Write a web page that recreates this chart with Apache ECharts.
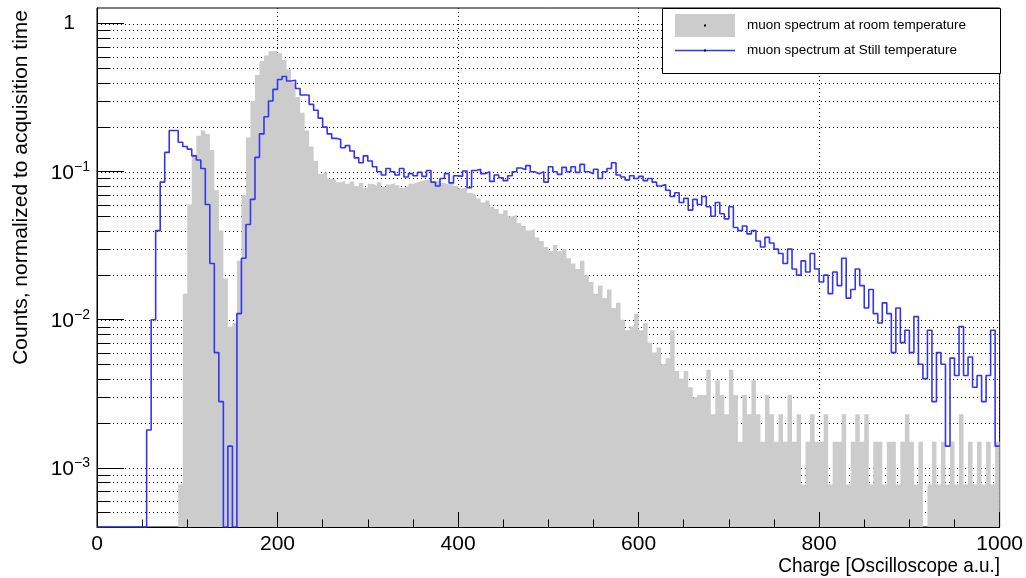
<!DOCTYPE html>
<html><head><meta charset="utf-8">
<script src="https://cdn.jsdelivr.net/npm/echarts@6/dist/echarts.min.js"></script>
<style>html,body{margin:0;padding:0;background:#fff}#c{width:1026px;height:578px}</style>
</head><body><div id="c"></div>
<script>
// ---- data (bin width 5 charge units, bins start at 0) ----
const BIN_START = 0, BIN_WIDTH = 5;
const roomTemperature = [
  0,0,0,0,0,0,0,0,0,0,
  0,0,0,0,0,0,0,0,0.00077,0.015,
  0.06,0.13,0.175,0.19,0.18,0.14,0.075,0.04,0.019,0.009,
  0.0095,0.025,0.07,0.17,0.3,0.45,0.56,0.61,0.65,0.66,
  0.63,0.57,0.49,0.40,0.32,0.25,0.19,0.148,0.118,0.097,
  0.1,0.09,0.088,0.085,0.087,0.083,0.086,0.08,0.084,0.078,
  0.083,0.081,0.085,0.079,0.082,0.084,0.081,0.078,0.08,0.083,
  0.085,0.087,0.088,0.09,0.086,0.088,0.084,0.082,0.085,0.08,
  0.077,0.079,0.072,0.07,0.066,0.062,0.064,0.058,0.056,0.052,
  0.055,0.05,0.051,0.045,0.043,0.04,0.041,0.036,0.034,0.031,
  0.029,0.032,0.029,0.03,0.026,0.024,0.022,0.025,0.02,0.018,
  0.015,0.017,0.014,0.016,0.012,0.013,0.01,0.0085,0.009,0.011,
  0.0085,0.0095,0.007,0.006,0.0065,0.005,0.0055,0.0085,0.0045,0.004,
  0.0045,0.0035,0.003,0.0031,0.0031,0.0046,0.0023,0.0039,0.0031,0.0023,
  0.0046,0.0031,0.0015,0.0031,0.0023,0.0039,0.0023,0.0015,0.0031,0.0023,
  0.0015,0.0023,0.0015,0.0031,0.0015,0.0023,0.00077,0.0015,0.0023,0.0015,
  0.0015,0.0023,0.00077,0.0015,0.0015,0.0023,0.00077,0.0015,0.0023,0.0015,
  0.0023,0.00077,0.0015,0.0015,0.00077,0.0015,0.0015,0.00077,0.0015,0.0023,
  0.0015,0.00077,0.0015,0,0.00077,0.0015,0.00077,0.0015,0.00077,0.0015,
  0.00077,0.0023,0.00077,0.0015,0.00077,0.0015,0.00077,0.0015,0.00077,0.0015
];
const stillTemperature = [
  0,0,0,0,0,0,0,0,0,0,
  0,0.0018,0.010,0.040,0.085,0.135,0.19,0.19,0.158,0.148,
  0.142,0.128,0.12,0.105,0.06,0.024,0.006,0.0028,0,0.0014,
  0,0.011,0.026,0.044,0.065,0.125,0.18,0.235,0.30,0.36,
  0.42,0.44,0.41,0.415,0.365,0.33,0.33,0.285,0.26,0.23,
  0.20,0.18,0.168,0.165,0.145,0.15,0.138,0.124,0.115,0.128,
  0.118,0.108,0.10,0.095,0.105,0.1,0.095,0.105,0.092,0.097,
  0.094,0.099,0.093,0.102,0.085,0.08,0.09,0.097,0.084,0.094,
  0.093,0.101,0.078,0.102,0.104,0.097,0.1,0.086,0.095,0.091,
  0.087,0.094,0.1,0.106,0.103,0.11,0.1,0.097,0.1,0.085,
  0.108,0.1,0.096,0.107,0.1,0.108,0.099,0.112,0.1,0.097,
  0.104,0.09,0.1,0.105,0.115,0.095,0.092,0.088,0.094,0.09,
  0.093,0.087,0.09,0.085,0.08,0.082,0.075,0.068,0.072,0.062,
  0.066,0.055,0.065,0.06,0.068,0.058,0.05,0.062,0.052,0.048,
  0.058,0.042,0.04,0.043,0.038,0.04,0.034,0.031,0.036,0.033,
  0.03,0.028,0.024,0.03,0.022,0.02,0.025,0.021,0.028,0.022,
  0.018,0.02,0.015,0.021,0.017,0.026,0.014,0.016,0.022,0.017,
  0.012,0.016,0.011,0.0095,0.013,0.011,0.006,0.012,0.007,0.0085,
  0.006,0.0105,0.005,0.004,0.0085,0.0028,0.006,0.005,0.0014,0.0055,
  0.0042,0.009,0.0042,0.0056,0.0035,0.0042,0.0028,0.0042,0.0085,0.0014
];
const xTickValues = [0, 200, 400, 600, 800, 1000];
const yTickValues = [0.001, 0.01, 0.1, 1];
const ROOM_NAME = 'muon spectrum at room temperature';
const STILL_NAME = 'muon spectrum at Still temperature';
const X_TITLE = 'Charge [Oscilloscope a.u.]';
const Y_TITLE = 'Counts, normalized to acquisition time';

// ---- axis ranges ----
const X_MIN = 0, X_MAX = 1000;
const Y_MIN = 3.98e-4, Y_MAX = 1.276;

const FONT = "'Liberation Sans', Arial, Helvetica, sans-serif";
const GREY = '#cccccc', BLUE = '#3434f4';

function stepPoints(vals) {
  const pts = vals.map((v, i) => [BIN_START + i * BIN_WIDTH, Math.max(v, Y_MIN)]);
  pts.push([BIN_START + vals.length * BIN_WIDTH, Math.max(vals[vals.length - 1], Y_MIN)]);
  return pts;
}

// grid values for y (decade majors + minors)
const yGrid = [];
for (let e = -4; e <= 0; e++) {
  for (let m = 1; m <= 9; m++) {
    const v = m * Math.pow(10, e);
    if (v >= Y_MIN && v <= Y_MAX) yGrid.push([0, v, m === 1 ? 1 : 0]);
  }
}

function yLabel(v) {
  const e = Math.round(Math.log10(v));
  if (e === 0) return '{one|1}';
  return '{b|10}{s|\u2212' + (-e) + '}';
}

const chart = echarts.init(document.getElementById('c'), null, {renderer: 'canvas'});
chart.setOption({
  animation: false,
  textStyle: {fontFamily: FONT},
  grid: {left: 97, right: 26, top: 8, bottom: 51, show: true, borderColor: '#000', borderWidth: 1, backgroundColor: 'transparent'},
  xAxis: [{
    type: 'value', min: X_MIN, max: X_MAX, interval: 200, position: 'bottom', z: 3,
    axisLine: {show: true, onZero: false, lineStyle: {color: '#000', width: 1}},
    axisTick: {show: true, inside: true, length: 15, lineStyle: {color: '#000', width: 1}},
    minorTick: {show: true, splitNumber: 4, length: 7.5, lineStyle: {color: '#000', width: 1}},
    axisLabel: {show: true, margin: 7, color: '#000', fontSize: 21, fontFamily: FONT,
      customValues: xTickValues, formatter: function (v) { return String(v); }},
    splitLine: {show: false}
  }, {
    type: 'value', min: X_MIN, max: X_MAX, interval: 200, position: 'bottom', z: 0,
    axisLine: {show: false}, axisTick: {show: false}, axisLabel: {show: false},
    splitLine: {show: true, lineStyle: {color: '#000', width: 1, type: [1, 3]}}
  }],
  yAxis: [{
    type: 'log', logBase: 10, min: Y_MIN, max: Y_MAX, position: 'left', z: 3,
    axisLine: {show: true, onZero: false, lineStyle: {color: '#000', width: 1}},
    axisTick: {show: true, inside: true, length: 27, customValues: yTickValues, lineStyle: {color: '#000', width: 1}},
    axisLabel: {
      show: true, margin: 7, customValues: yTickValues, formatter: yLabel,
      rich: {
        one: {fontSize: 21, fontFamily: FONT, color: '#000', lineHeight: 24, padding: [0, 15, 0, 0]},
        b: {fontSize: 21, fontFamily: FONT, color: '#000', lineHeight: 24, verticalAlign: 'bottom'},
        s: {fontSize: 14, fontFamily: FONT, color: '#000', lineHeight: 14, verticalAlign: 'top'}
      }
    },
    splitLine: {show: false}
  }],
  legend: {
    left: 675, top: 14, orient: 'vertical', itemWidth: 60, itemHeight: 23, itemGap: 2, padding: 0,
    selectedMode: false, z: 6,
    itemStyle: {borderWidth: 0},
    textStyle: {fontFamily: FONT, fontSize: 13.5, color: '#000', padding: [0, 0, 0, 7]},
    data: [
      {name: ROOM_NAME, icon: 'rect'},
      {name: STILL_NAME, icon: 'path://M0,0h60v0.01H0z M0,10.75h60v1.5H0z M0,22.99h60v0.01H0z'}
    ]
  },
  graphic: [
    {type: 'rect', z: 5, shape: {x: 662.5, y: 8.5, width: 338, height: 65}, style: {fill: '#fff', stroke: '#000', lineWidth: 1}},
    {type: 'rect', z: 7, shape: {x: 704, y: 24.5, width: 2, height: 2}, style: {fill: '#000'}},
    {type: 'rect', z: 7, shape: {x: 704, y: 49.5, width: 2, height: 2}, style: {fill: '#000'}},
    {type: 'text', z: 5, x: 21, y: 10, rotation: Math.PI / 2,
      style: {text: Y_TITLE, font: '21px ' + FONT, fill: '#000', align: 'right', verticalAlign: 'middle', textAlign: 'right', textVerticalAlign: 'middle'}},
    {type: 'text', z: 5, x: 1000, y: 566, scaleX: 0.9,
      style: {text: X_TITLE, font: '21px ' + FONT, fill: '#000', align: 'right', verticalAlign: 'middle', textAlign: 'right', textVerticalAlign: 'middle'}}
  ],
  series: [{
    type: 'custom', name: 'ygrid', z: 1, silent: true, xAxisIndex: 0, yAxisIndex: 0,
    data: yGrid,
    renderItem: function (params, api) {
      const cs = params.coordSys;
      const y = Math.round(api.coord([0, api.value(1)])[1]) + 0.5;
      const children = [{
        type: 'line', shape: {x1: cs.x, y1: y, x2: cs.x + cs.width, y2: y},
        style: {stroke: '#000', lineWidth: 1, lineDash: [1, 3]}
      }];
      if (!api.value(2)) {
        children.push({type: 'line', shape: {x1: cs.x, y1: y, x2: cs.x + 13.5, y2: y}, style: {stroke: '#000', lineWidth: 1}});
      }
      return {type: 'group', children: children};
    }
  }, {
    type: 'line', name: ROOM_NAME, z: 2, step: 'end', symbol: 'none', xAxisIndex: 0, yAxisIndex: 0,
    data: stepPoints(roomTemperature),
    itemStyle: {color: GREY},
    lineStyle: {width: 0, color: GREY},
    areaStyle: {color: GREY, opacity: 1, origin: 'start'}
  }, {
    type: 'line', name: STILL_NAME, z: 4, step: 'end', symbol: 'none', xAxisIndex: 0, yAxisIndex: 0,
    data: stepPoints(stillTemperature),
    itemStyle: {color: BLUE},
    lineStyle: {width: 1.6, color: BLUE}
  }]
});
</script></body></html>
